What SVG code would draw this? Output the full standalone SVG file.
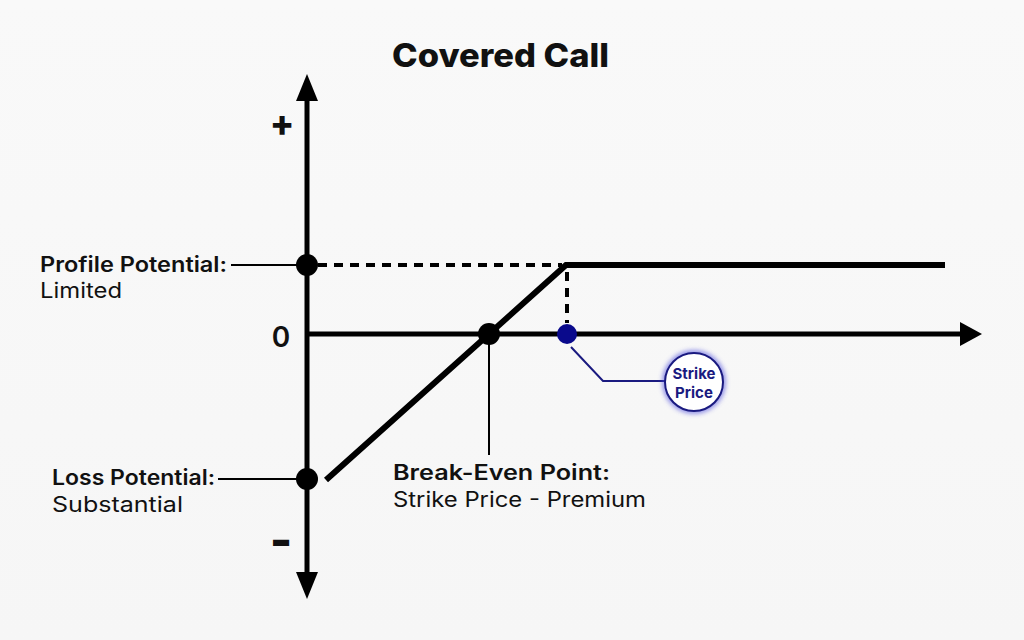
<svg xmlns="http://www.w3.org/2000/svg" width="1024" height="640" viewBox="0 0 1024 640">
<defs>
<style>
.lbl{font-family:Inter,"Open Sans","Liberation Sans",sans-serif;fill:#111;font-size:21px}
.b{font-weight:600}
.sym{font-family:Inter,"Open Sans","Liberation Sans",sans-serif;fill:#111;text-anchor:middle}
.ax{stroke:#000;stroke-width:5;fill:none}
.pay{stroke:#000;stroke-width:6;fill:none}
.lead{stroke:#000;stroke-width:2;fill:none}
.dash{stroke:#000;stroke-width:4;stroke-dasharray:9 7;fill:none}
.sp{font-family:Inter,"Open Sans","Liberation Sans",sans-serif;fill:#1a1a80;font-size:15px;font-weight:700}
</style>
<filter id="glow" x="-30%" y="-30%" width="160%" height="160%">
<feGaussianBlur stdDeviation="2.5"/>
</filter>
<linearGradient id="bg" x1="0" y1="0" x2="0" y2="1">
<stop offset="0" stop-color="#f9f9f9"/>
<stop offset="1" stop-color="#f6f6f6"/>
</linearGradient>
</defs>
<rect width="1024" height="640" fill="url(#bg)"/>
<text x="392" y="67" textLength="217" lengthAdjust="spacingAndGlyphs" font-family="Inter,'Liberation Sans',sans-serif" font-size="33" font-weight="800" fill="#111">Covered Call</text>
<g id="axes">
<line class="ax" x1="307" y1="95" x2="307" y2="578"/>
<polygon points="296,101 318,101 307,74" fill="#000"/>
<polygon points="296,572 318,572 307,599" fill="#000"/>
<line class="ax" x1="307" y1="334" x2="962" y2="334"/>
<polygon points="960,322 960,346 982,334" fill="#000"/>
<text class="sym" x="282" y="136" style="font-size:36px;font-weight:800">+</text>
<text class="sym" x="281" y="347" style="font-size:28px;font-weight:600">0</text>
<text class="sym" x="281" y="557" style="font-size:48px;font-weight:800">-</text>
</g>
<g id="connectors">
<line class="dash" x1="318" y1="265" x2="562" y2="265"/>
<line class="dash" x1="567" y1="272" x2="567" y2="323"/>
<polyline class="pay" points="326,480 566,265 945,265"/>
<line class="lead" x1="231" y1="265" x2="300" y2="265"/>
<line class="lead" x1="218" y1="479" x2="300" y2="479"/>
<line class="lead" x1="489" y1="334" x2="489" y2="455"/>
<polyline points="571,347 603,381 665,381" fill="none" stroke="#1a1a80" stroke-width="2"/>
</g>
<g id="profit">
<circle cx="307" cy="265" r="11" fill="#000"/>
<text class="lbl b" x="40" y="272" textLength="187" lengthAdjust="spacingAndGlyphs">Profile Potential:</text>
<text class="lbl" x="40" y="298" textLength="82" lengthAdjust="spacingAndGlyphs">Limited</text>
</g>
<g id="loss">
<circle cx="307" cy="479" r="11" fill="#000"/>
<text class="lbl b" x="52" y="485" textLength="163" lengthAdjust="spacingAndGlyphs">Loss Potential:</text>
<text class="lbl" x="52" y="512" textLength="131" lengthAdjust="spacingAndGlyphs">Substantial</text>
</g>
<g id="breakeven">
<circle cx="489" cy="334" r="11" fill="#000"/>
<text class="lbl b" x="393" y="480" textLength="217" lengthAdjust="spacingAndGlyphs">Break-Even Point:</text>
<text class="lbl" x="393" y="507" textLength="253" lengthAdjust="spacingAndGlyphs">Strike Price - Premium</text>
</g>
<g id="strike">
<circle cx="567" cy="334" r="10" fill="#0a0a8c"/>
<circle cx="694" cy="382" r="29" fill="none" stroke="#4a4adc" stroke-width="5" filter="url(#glow)" opacity="0.7"/>
<circle cx="694" cy="382" r="29" fill="#fff" stroke="#1a1a80" stroke-width="2"/>
<text class="sp" x="694" y="379" text-anchor="middle">Strike</text>
<text class="sp" x="694" y="398" text-anchor="middle">Price</text>
</g>
</svg>
